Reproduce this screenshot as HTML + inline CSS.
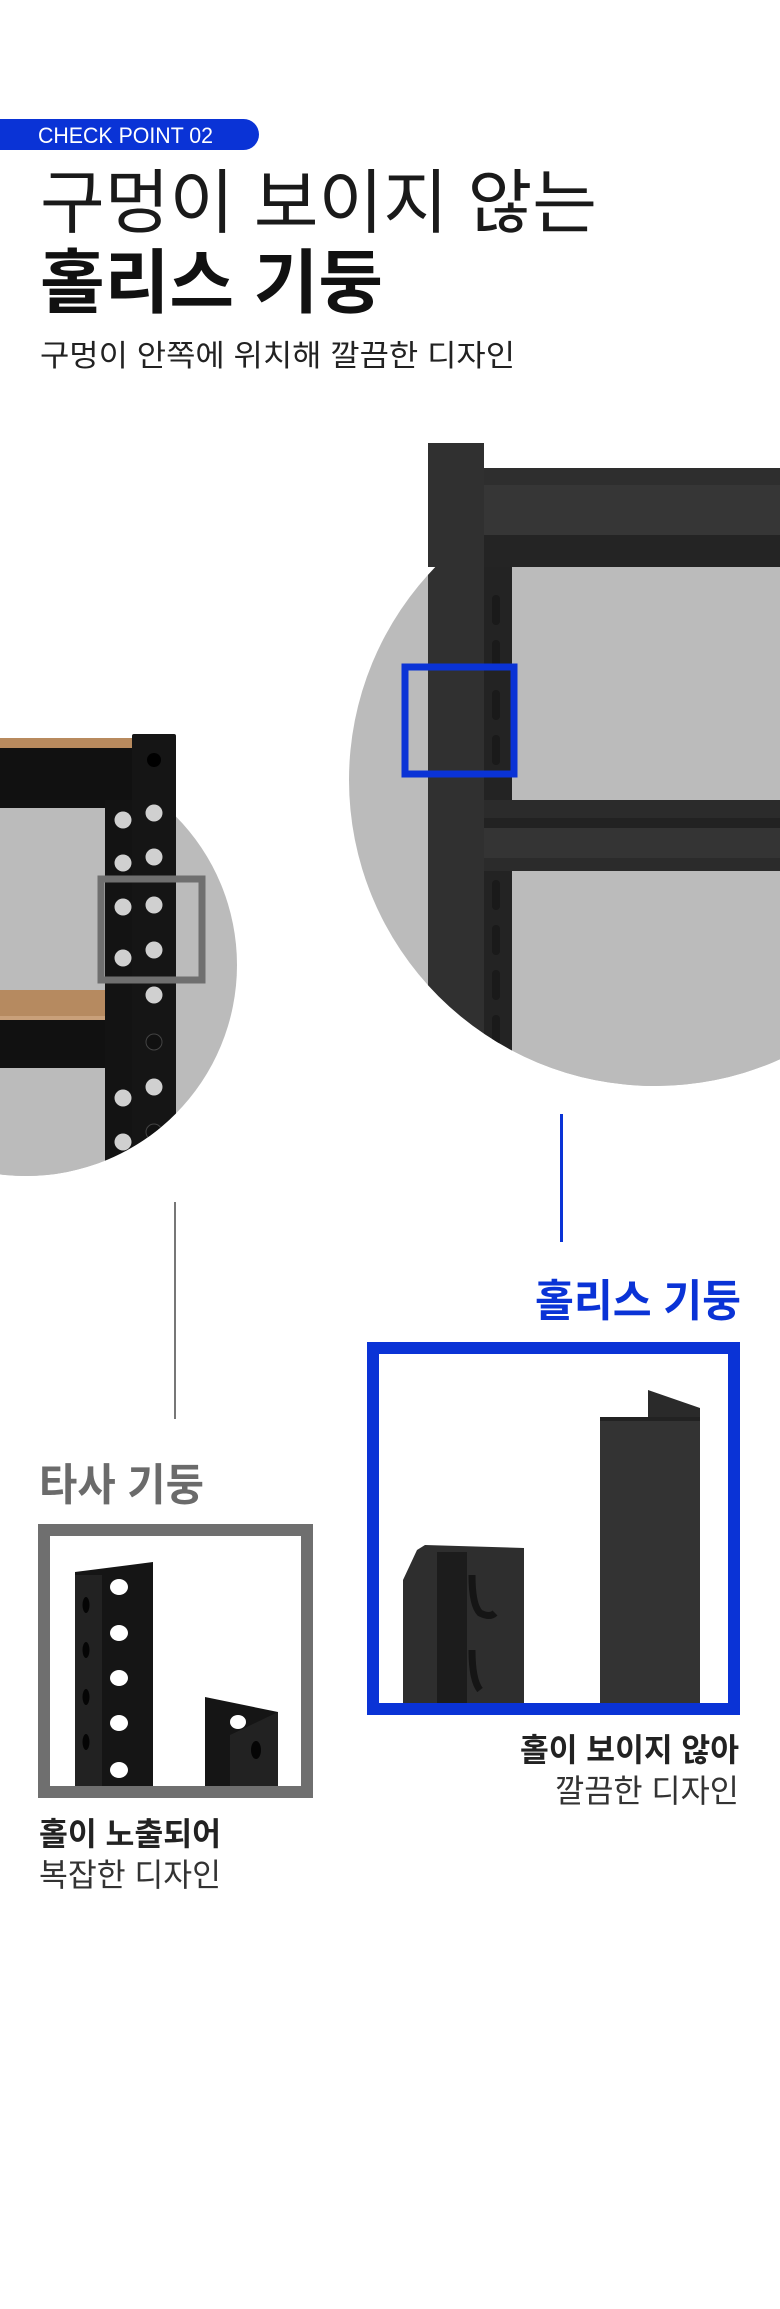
<!DOCTYPE html>
<html><head><meta charset="utf-8"><style>
html,body{margin:0;padding:0;background:#fff;}
svg{display:block;}
text{font-family:"Liberation Sans","Noto Sans CJK KR",sans-serif;}
</style></head><body>
<svg width="780" height="2309" viewBox="0 0 780 2309" xmlns="http://www.w3.org/2000/svg">
<defs>
<clipPath id="cr"><circle cx="655" cy="780" r="306"/><rect x="0" y="0" width="780" height="567"/></clipPath>
<clipPath id="cl"><circle cx="26" cy="965" r="211"/><rect x="0" y="0" width="780" height="802"/></clipPath>
<clipPath id="cl2"><circle cx="26" cy="965" r="211"/><rect x="0" y="0" width="780" height="1000"/></clipPath>
</defs>
<rect width="780" height="2309" fill="#fff"/>
<!-- pill -->
<rect x="-20" y="119" width="279" height="31" rx="15.5" fill="#0a33d6"/>
<text x="38" y="143" font-size="22" fill="#fff" textLength="175" lengthAdjust="spacingAndGlyphs">CHECK POINT 02</text>
<text x="40" y="227" font-size="70" fill="#1a1a1a" textLength="557" lengthAdjust="spacingAndGlyphs">구멍이 보이지 않는</text>
<text x="40" y="307" font-size="70" font-weight="bold" fill="#111" textLength="343" lengthAdjust="spacingAndGlyphs">홀리스 기둥</text>
<text x="40" y="366" font-size="30" fill="#222" textLength="475" lengthAdjust="spacingAndGlyphs">구멍이 안쪽에 위치해 깔끔한 디자인</text>

<!-- right rack -->
<circle cx="655" cy="780" r="306" fill="#bbbbbb"/>
<g clip-path="url(#cr)">
 <rect x="484" y="468" width="300" height="99" fill="#2e2e2e"/>
 <rect x="484" y="485" width="300" height="50" fill="#363636"/>
 <rect x="484" y="535" width="300" height="32" fill="#242424"/>
 <rect x="512" y="567" width="270" height="233" fill="#bbbbbb"/>
 <rect x="484" y="567" width="28" height="600" fill="#232323"/>
 <rect x="484" y="800" width="300" height="71" fill="#2b2b2b"/>
 <rect x="484" y="818" width="300" height="10" fill="#222"/>
 <rect x="484" y="828" width="300" height="30" fill="#343434"/>
 <rect x="512" y="871" width="270" height="400" fill="#bbbbbb"/>
 <rect x="428" y="443" width="56" height="700" fill="#303030"/>
 <g fill="#1a1a1a">
  <rect x="492" y="595" width="8" height="30" rx="4"/><rect x="492" y="640" width="8" height="30" rx="4"/>
  <rect x="492" y="690" width="8" height="30" rx="4"/><rect x="492" y="735" width="8" height="30" rx="4"/>
  <rect x="492" y="880" width="8" height="30" rx="4"/><rect x="492" y="925" width="8" height="30" rx="4"/>
  <rect x="492" y="970" width="8" height="30" rx="4"/><rect x="492" y="1015" width="8" height="30" rx="4"/>
 </g>
</g>
<rect x="405" y="667" width="109" height="107" fill="none" stroke="#0a33d6" stroke-width="7"/>

<!-- left rack -->
<circle cx="26" cy="965" r="211" fill="#bbbbbb"/>
<g clip-path="url(#cl)">
 <rect x="0" y="738" width="132" height="10" fill="#b88a5e"/>
 <rect x="0" y="748" width="132" height="60" fill="#111"/>
 <rect x="0" y="808" width="105" height="182" fill="#bbbbbb"/>
 <rect x="0" y="990" width="132" height="30" fill="#b68a60"/>
 <rect x="0" y="1016" width="132" height="4" fill="#c9a07a"/>
 <rect x="0" y="1020" width="132" height="48" fill="#111"/>
 <rect x="0" y="1068" width="105" height="130" fill="#bbbbbb"/>
</g>
<g clip-path="url(#cl2)">
 <rect x="105" y="800" width="27" height="400" fill="#131313"/>
 <rect x="132" y="734" width="44" height="460" rx="2" fill="#151515"/>
 <g fill="#d0d0d0">
  <circle cx="154" cy="813" r="8.5"/><circle cx="154" cy="857" r="8.5"/><circle cx="154" cy="905" r="8.5"/>
  <circle cx="154" cy="950" r="8.5"/><circle cx="154" cy="995" r="8.5"/><circle cx="154" cy="1087" r="8.5"/>
  <circle cx="123" cy="820" r="8.5"/><circle cx="123" cy="863" r="8.5"/><circle cx="123" cy="907" r="8.5"/>
  <circle cx="123" cy="958" r="8.5"/><circle cx="123" cy="1098" r="8.5"/><circle cx="123" cy="1142" r="8.5"/>
 </g>
 <circle cx="154" cy="760" r="7" fill="#000"/>
 <circle cx="154" cy="1042" r="8" fill="#111" stroke="#444"/>
 <circle cx="154" cy="1132" r="8" fill="#111" stroke="#444"/>
</g>
<rect x="101" y="879" width="101" height="101" fill="none" stroke="#6f6f6f" stroke-width="7"/>

<!-- connector lines -->
<rect x="174" y="1202" width="2" height="217" fill="#777"/>
<rect x="560" y="1114" width="3" height="128" fill="#0a33d6"/>

<!-- right box -->
<text x="535" y="1316" font-size="44" font-weight="bold" fill="#0a33d6" textLength="206" lengthAdjust="spacingAndGlyphs">홀리스 기둥</text>
<polygon points="403,1580 417,1550 425,1545 524,1548 524,1703 403,1703" fill="#2e2e2e"/>
<rect x="437" y="1552" width="30" height="151" fill="#1c1c1c"/>
<path d="M472,1575 q0,30 8,38 q10,5 15,0 M472,1650 q0,30 8,40" stroke="#151515" stroke-width="7" fill="none"/>
<polygon points="648,1390 700,1408 700,1417 648,1417" fill="#2a2a2a"/>
<polygon points="600,1417 700,1417 700,1703 600,1703" fill="#333"/>
<rect x="600" y="1417" width="100" height="4" fill="#222"/>
<rect x="373" y="1348" width="361" height="361" fill="none" stroke="#0a33d6" stroke-width="12"/>
<text x="520" y="1761" font-size="32" font-weight="bold" fill="#222" textLength="219" lengthAdjust="spacingAndGlyphs">홀이 보이지 않아</text>
<text x="555" y="1802" font-size="32" fill="#333" textLength="184" lengthAdjust="spacingAndGlyphs">깔끔한 디자인</text>

<!-- left box -->
<text x="39" y="1500" font-size="44" font-weight="bold" fill="#6b6b6b" textLength="165" lengthAdjust="spacingAndGlyphs">타사 기둥</text>
<polygon points="75,1572 153,1562 153,1787 75,1787" fill="#151515"/>
<rect x="75" y="1575" width="27" height="212" fill="#222"/>
<g fill="#fff">
 <ellipse cx="119" cy="1587" rx="9" ry="8"/><ellipse cx="119" cy="1633" rx="9" ry="8"/>
 <ellipse cx="119" cy="1678" rx="9" ry="8"/><ellipse cx="119" cy="1723" rx="9" ry="8"/>
 <ellipse cx="119" cy="1770" rx="9" ry="8"/>
</g>
<g fill="#050505">
 <ellipse cx="86" cy="1605" rx="3.5" ry="8"/><ellipse cx="86" cy="1650" rx="3.5" ry="8"/>
 <ellipse cx="86" cy="1697" rx="3.5" ry="8"/><ellipse cx="86" cy="1742" rx="3.5" ry="8"/>
</g>
<polygon points="205,1697 278,1712 278,1787 205,1787" fill="#151515"/>
<ellipse cx="238" cy="1722" rx="8" ry="7" fill="#fff"/>
<polygon points="230,1735 278,1712 278,1787 230,1787" fill="#222"/>
<ellipse cx="256" cy="1750" rx="5" ry="9" fill="#050505"/>
<rect x="44" y="1530" width="263" height="262" fill="none" stroke="#6f6f6f" stroke-width="12"/>
<text x="39" y="1845" font-size="32" font-weight="bold" fill="#222" textLength="182" lengthAdjust="spacingAndGlyphs">홀이 노출되어</text>
<text x="39" y="1886" font-size="32" fill="#333" textLength="182" lengthAdjust="spacingAndGlyphs">복잡한 디자인</text>
</svg>
</body></html>
